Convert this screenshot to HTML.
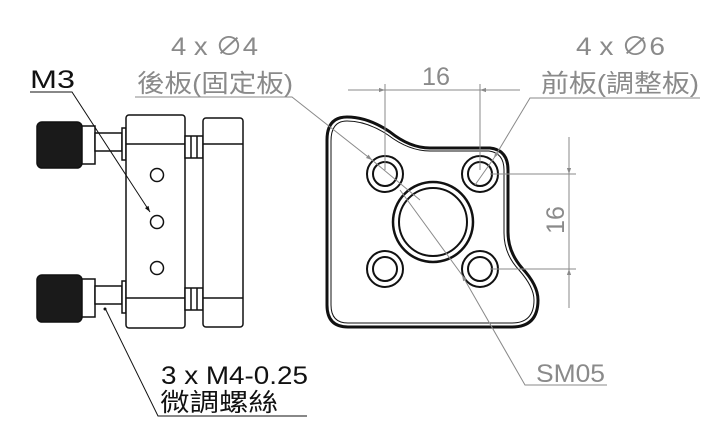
<!DOCTYPE html>
<html><head><meta charset="utf-8"><style>
html,body{margin:0;padding:0;background:#fff;}
svg{display:block;}
.g{fill:#8a8a8a;font-family:"Liberation Sans","Noto Sans CJK TC",sans-serif;}
.k{fill:#111;font-family:"Liberation Sans","Noto Sans CJK TC",sans-serif;}
</style></head><body>
<svg width="721" height="440" viewBox="0 0 721 440" xmlns="http://www.w3.org/2000/svg">
<defs>
<marker id="ag" viewBox="0 0 10 10" refX="10" refY="5" markerWidth="12" markerHeight="6" markerUnits="userSpaceOnUse" orient="auto"><path d="M0,1.5L10,5L0,8.5z" fill="#8a8a8a"/></marker>
<marker id="ak" viewBox="0 0 10 10" refX="10" refY="5" markerWidth="12" markerHeight="6" markerUnits="userSpaceOnUse" orient="auto"><path d="M0,1.5L10,5L0,8.5z" fill="#111"/></marker>
</defs>

<g stroke="#111" stroke-width="1.5" fill="none">
  <rect x="37" y="122" width="45" height="46" rx="5" fill="#1a1a1a"/>
  <rect x="37" y="275" width="45" height="47" rx="5" fill="#1a1a1a"/>
  <rect x="82" y="126" width="13" height="38" fill="#fff"/>
  <rect x="82" y="279" width="13" height="38" fill="#fff"/>
  <rect x="95" y="133" width="27" height="18" fill="#fff"/>
  <rect x="95" y="286" width="27" height="18" fill="#fff"/>
  <rect x="122" y="128" width="4" height="32" fill="#fff"/>
  <rect x="122" y="281" width="4" height="32" fill="#fff"/>
  <rect x="126" y="115" width="59" height="213" rx="3" fill="#fff"/>
  <line x1="126" y1="144" x2="185" y2="144"/>
  <line x1="126" y1="298" x2="185" y2="298"/>
  <circle cx="157" cy="175" r="6.5"/>
  <circle cx="157" cy="222" r="6.5"/>
  <circle cx="157" cy="268" r="6.5"/>
  <rect x="185" y="136" width="18" height="22" fill="#fff"/>
  <rect x="185" y="288" width="18" height="22" fill="#fff"/>
  <line x1="191" y1="136" x2="191" y2="158"/><line x1="197" y1="136" x2="197" y2="158"/>
  <line x1="191" y1="288" x2="191" y2="310"/><line x1="197" y1="288" x2="197" y2="310"/>
  <rect x="203" y="118" width="40" height="209" rx="3" fill="#fff"/>
  <line x1="203" y1="144" x2="243" y2="144"/>
  <line x1="203" y1="298" x2="243" y2="298"/>
</g>

<g stroke="#111" fill="none">
  <path d="M327,140 Q327,117 347,117 Q368,117 390,132 Q410,148 430,148 L490,148 Q508,150 508,170 L508,232 Q508,252 522,268 Q538,285 538,300 Q538,327 512,327 L348,327 Q327,327 327,305 Z" stroke-width="3"/>
  <path d="M331,141 Q331,121 347,121 Q367,121 388,135 Q409,151 430,151 L489,151 Q504,153 504,170 L504,233 Q504,254 519,270 Q534,287 534,300 Q534,323 512,323 L348,323 Q331,323 331,305 Z" stroke-width="1"/>
  <g stroke-width="2">
    <circle cx="385" cy="174" r="18"/><circle cx="385" cy="174" r="12"/>
    <circle cx="480" cy="174" r="18"/><circle cx="480" cy="174" r="12"/>
    <circle cx="385" cy="269" r="18"/><circle cx="385" cy="269" r="12"/>
    <circle cx="480" cy="269" r="18"/><circle cx="480" cy="269" r="12"/>
    <circle cx="433" cy="222" r="40" stroke-width="2.5"/><circle cx="433" cy="222" r="34"/>
  </g>
</g>

<g stroke="#8a8a8a" stroke-width="1" fill="none">
  <line x1="385" y1="84" x2="385" y2="170"/>
  <line x1="480" y1="84" x2="480" y2="170"/>
  <line x1="348" y1="90" x2="385" y2="90" marker-end="url(#ag)"/>
  <line x1="520" y1="90" x2="480" y2="90" marker-end="url(#ag)"/>
  <line x1="385" y1="90" x2="480" y2="90"/>
  <line x1="490" y1="174" x2="576" y2="174"/>
  <line x1="490" y1="269" x2="576" y2="269"/>
  <line x1="569" y1="137" x2="569" y2="174" marker-end="url(#ag)"/>
  <line x1="569" y1="308" x2="569" y2="269" marker-end="url(#ag)"/>
  <line x1="569" y1="174" x2="569" y2="269"/>
  <polyline points="135,97 292,97 372,160" marker-end="url(#ag)"/>
  <line x1="372" y1="160" x2="420" y2="200"/>
  <polyline points="700,98 530,98 494,158" marker-end="url(#ag)"/>
  <line x1="494" y1="158" x2="475" y2="185"/>
  <polyline points="607,385 525,385 462,275" marker-end="url(#ag)"/>
  <line x1="462" y1="275" x2="400" y2="190"/>
</g>
<g stroke="#111" stroke-width="1" fill="none">
  <polyline points="30,92 72,92 150,212" marker-end="url(#ak)"/>
  <polyline points="307,416 158,416 105,308"/>
</g>
<circle cx="105" cy="309" r="1.5" fill="#111"/>

<text class="g" x="171" y="55" font-size="25" textLength="87" lengthAdjust="spacingAndGlyphs">4 x ∅4</text>
<text class="g" x="137" y="92" font-size="25" textLength="156" lengthAdjust="spacingAndGlyphs">後板(固定板)</text>
<text class="g" x="576" y="55" font-size="25" textLength="89" lengthAdjust="spacingAndGlyphs">4 x ∅6</text>
<text class="g" x="541" y="92" font-size="25" textLength="158" lengthAdjust="spacingAndGlyphs">前板(調整板)</text>
<text class="g" x="422" y="85" font-size="25" textLength="28" lengthAdjust="spacingAndGlyphs">16</text>
<text class="g" x="0" y="0" font-size="25" text-anchor="middle" transform="translate(564,220) rotate(-90)">16</text>
<text class="g" x="536" y="382" font-size="25" textLength="69" lengthAdjust="spacingAndGlyphs">SM05</text>
<text class="k" x="30" y="88" font-size="25" textLength="45" lengthAdjust="spacingAndGlyphs">M3</text>
<text class="k" x="161" y="384" font-size="25" textLength="147" lengthAdjust="spacingAndGlyphs">3 x M4-0.25</text>
<text class="k" x="160" y="411" font-size="25" textLength="118" lengthAdjust="spacingAndGlyphs">微調螺絲</text>
</svg>
</body></html>
